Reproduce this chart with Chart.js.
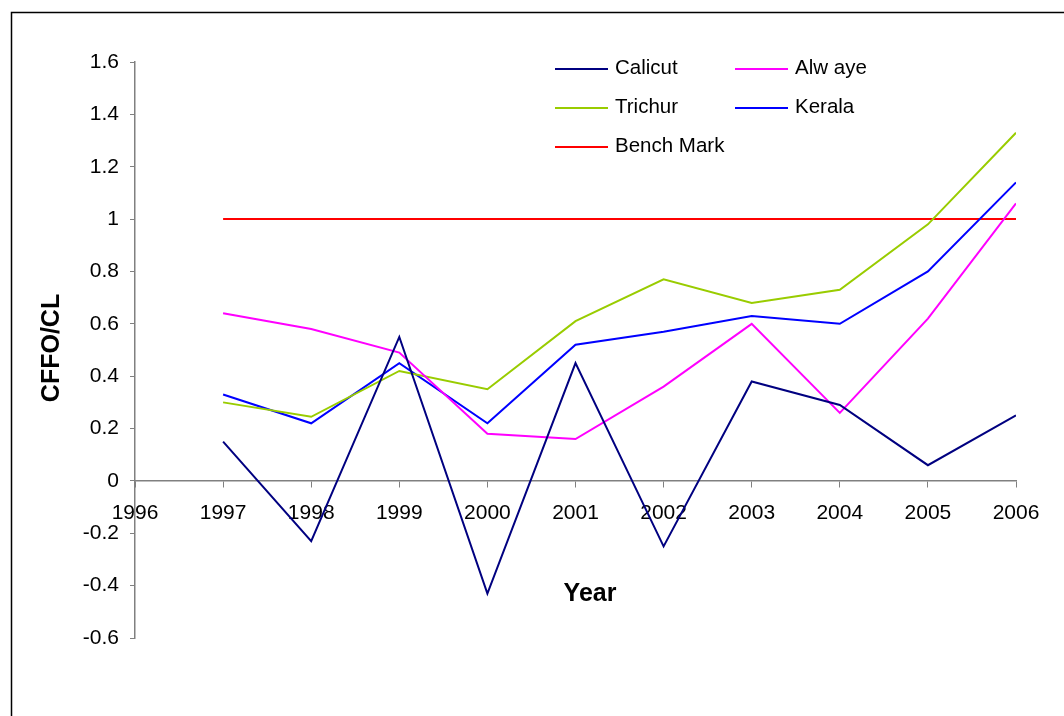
<!DOCTYPE html>
<html>
<head>
<meta charset="utf-8">
<title>CFFO/CL by Year</title>
<script src="https://cdn.jsdelivr.net/npm/chart.js@4/dist/chart.umd.min.js"></script>
<style>
  html, body { margin: 0; padding: 0; background: #ffffff; }
  #wrap { position: relative; width: 1064px; height: 716px; }
  canvas { display: block; }
</style>
</head>
<body>
<div id="wrap"><canvas id="chart" width="1064" height="716"></canvas></div>
<script>
// Years and CFFO/CL ratios per district
const years = [1997, 1998, 1999, 2000, 2001, 2002, 2003, 2004, 2005, 2006];
const calicut = [0.15, -0.23, 0.55, -0.43, 0.45, -0.25, 0.38, 0.29, 0.06, 0.25];
const alwaye = [0.64, 0.58, 0.49, 0.18, 0.16, 0.36, 0.60, 0.26, 0.62, 1.06];
const trichur = [0.30, 0.245, 0.42, 0.35, 0.61, 0.77, 0.68, 0.73, 0.98, 1.33];
const kerala = [0.33, 0.22, 0.45, 0.22, 0.52, 0.57, 0.63, 0.60, 0.80, 1.14];
const benchMark = [1, 1, 1, 1, 1, 1, 1, 1, 1, 1];

const seriesLabels = ['Calicut', 'Alw aye', 'Trichur', 'Kerala', 'Bench Mark'];
const seriesColors = ['#000080', '#FF00FF', '#99CC00', '#0000FF', '#FF0000'];
const seriesValues = [calicut, alwaye, trichur, kerala, benchMark];

const xMin = 1996, xMax = 2006;
const yMin = -0.6, yMax = 1.6, yStep = 0.2;

const FONT = '"Liberation Sans", Arial, Helvetica, sans-serif';
Chart.defaults.font.family = FONT;
Chart.defaults.font.size = 20;
Chart.defaults.color = '#000000';

const datasets = seriesValues.map((vals, i) => ({
  label: seriesLabels[i],
  data: vals.map((v, k) => ({ x: years[k], y: v })),
  borderColor: seriesColors[i],
  backgroundColor: seriesColors[i],
  borderWidth: 2,
  pointRadius: 0,
  pointHoverRadius: 0,
  tension: 0,
  fill: false
}));

// Frame, axis titles and the two-column legend
const decorations = {
  id: 'decorations',
  beforeDraw(chart) {
    const ctx = chart.ctx;
    ctx.save();
    ctx.fillStyle = '#ffffff';
    ctx.fillRect(0, 0, chart.width, chart.height);
    ctx.strokeStyle = '#000000';
    ctx.lineWidth = 1.5;
    ctx.beginPath();
    ctx.moveTo(11.5, chart.height);
    ctx.lineTo(11.5, 12.5);
    ctx.lineTo(chart.width, 12.5);
    ctx.stroke();
    ctx.restore();
  },
  afterDraw(chart) {
    const ctx = chart.ctx;
    ctx.save();
    // axis titles
    ctx.fillStyle = '#000000';
    ctx.font = 'bold 25px ' + FONT;
    ctx.textAlign = 'center';
    ctx.textBaseline = 'middle';
    ctx.fillText('Year', 590, 594);
    ctx.translate(52, 348);
    ctx.rotate(-Math.PI / 2);
    ctx.fillText('CFFO/CL', 0, 0);
    ctx.restore();

    // legend
    ctx.save();
    ctx.font = '20.5px ' + FONT;
    ctx.textAlign = 'left';
    ctx.textBaseline = 'middle';
    chart.data.datasets.forEach((ds, i) => {
      const col = i % 2, row = Math.floor(i / 2);
      const x0 = 555 + col * 180;
      const y = 68.5 + row * 39;
      ctx.strokeStyle = ds.borderColor;
      ctx.lineWidth = 2;
      ctx.beginPath();
      ctx.moveTo(x0, Math.round(y));
      ctx.lineTo(x0 + 53, Math.round(y));
      ctx.stroke();
      ctx.fillStyle = '#000000';
      ctx.fillText(ds.label, x0 + 60, y);
    });
    ctx.restore();
  }
};

new Chart(document.getElementById('chart'), {
  type: 'line',
  data: { datasets },
  plugins: [decorations],
  options: {
    responsive: false,
    devicePixelRatio: 1,
    animation: false,
    layout: { padding: { left: 0, top: 62, right: 48, bottom: 78 } },
    plugins: {
      legend: { display: false },
      tooltip: { enabled: false }
    },
    scales: {
      x: {
        type: 'linear',
        position: { y: 0 },
        min: xMin,
        max: xMax,
        grid: {
          display: true,
          drawOnChartArea: false,
          drawTicks: true,
          tickLength: 6,
          tickColor: '#808080',
          lineWidth: 1
        },
        border: { display: true, color: '#808080', width: 1.5 },
        ticks: {
          stepSize: 1,
          autoSkip: false,
          maxRotation: 0,
          padding: 14,
          color: '#000000',
          font: { size: 21 },
          callback: v => String(v)
        }
      },
      y: {
        type: 'linear',
        min: yMin,
        max: yMax,
        afterFit: s => { s.width = 135; },
        grid: {
          display: true,
          drawOnChartArea: false,
          drawTicks: true,
          tickLength: 5,
          tickColor: '#808080',
          lineWidth: 1
        },
        border: { display: true, color: '#808080', width: 1.5 },
        ticks: {
          stepSize: yStep,
          padding: 11,
          color: '#000000',
          font: { size: 21 },
          callback: v => String(Number(v.toFixed(1)))
        }
      }
    }
  }
});
</script>
</body>
</html>
